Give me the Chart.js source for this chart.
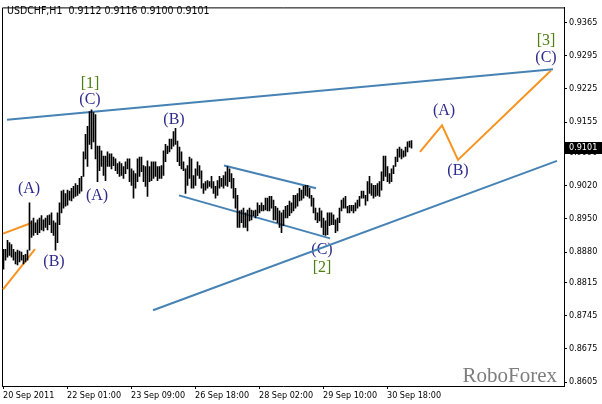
<!DOCTYPE html>
<html>
<head>
<meta charset="UTF-8">
<title>USDCHF H1</title>
<script src="https://cdn.jsdelivr.net/npm/chart.js"></script>
<style>
  html, body { margin: 0; padding: 0; background: #fff; }
  canvas { display: block; }
</style>
</head>
<body>
<canvas id="chart" width="602" height="404"></canvas>
<script>
// hourly bars, high / low only (bars are too dense for open/close ticks)
const symbol = 'USDCHF,H1';
const lastBar = [0.9112, 0.9116, 0.9100, 0.9101]; // open high low close

const highs = [
  .8886, .8886, .8905, .8900, .8896, .8886, .8880, .8884, .8882, .8880, .8873, .8875, .8884, .8984,
  .8946, .8952, .8942, .8948, .8952, .8957, .8948, .8952, .8957, .8959, .8963, .8946, .8942, .8963,
  .8984, .9009, .9011, .9004, .9011, .9009, .9015, .9019, .9025, .9021, .9036, .9040,
  .9092, .9129, .9146, .9177, .9181, .9175, .9171, .9104, .9104, .9094, .9083, .9083, .9092, .9088,
  .9088, .9081, .9077, .9067, .9071, .9067, .9061, .9071, .9077, .9077, .9056, .9052, .9046, .9077,
  .9081, .9081, .9063, .9061, .9073, .9061, .9071, .9071, .9071, .9061, .9061, .9063, .9094, .9108,
  .9104, .9119, .9119, .9135, .9142, .9115, .9102, .9092, .9071, .9056, .9063, .9081, .9077, .9042,
  .9056, .9071, .9063, .9052, .9025, .9029, .9031, .9029, .9040, .9029, .9019, .9031, .9040, .9036,
  .9042, .9050, .9061, .9056, .9046, .9036, .9015, .9000, .8967, .8969, .8973, .8963, .8969, .8973,
  .8969, .8967, .8969, .8984, .8979, .8984, .8979, .8994, .8994, .8998, .8998, .8990, .8977, .8973,
  .8967, .8963, .8969, .8977, .8979, .8988, .8984, .9000, .9000, .9004, .9015, .9011, .9019, .9021,
  .9021, .9015, .9000, .8994, .8973, .8963, .8973, .8967, .8952, .8946, .8963, .8963, .8963, .8959,
  .8948, .8952, .8973, .8990, .8994, .8998, .8977, .8979, .8979, .8979, .8984, .8990, .8998, .9009,
  .9009, .9000, .9029, .9040, .9025, .9021, .9021, .9025, .9029, .9050, .9083, .9083, .9061, .9046,
  .9056, .9063, .9081, .9098, .9102, .9098, .9094, .9102, .9113, .9115, .9116
];
const lows = [
  .8844, .8863, .8869, .8873, .8869, .8863, .8855, .8853, .8859, .8863, .8855, .8859, .8863, .8884,
  .8911, .8915, .8921, .8917, .8921, .8927, .8925, .8932, .8927, .8938, .8921, .8915, .8884, .8900,
  .8938, .8963, .8973, .8977, .8979, .8990, .8988, .8994, .8998, .9000, .9004, .9009,
  .9040, .9077, .9061, .9108, .9098, .9113, .9077, .9029, .9052, .9061, .9042, .9031, .9061, .9061,
  .9056, .9063, .9052, .9046, .9040, .9042, .9036, .9046, .9056, .9029, .9021, .8994, .9015, .9029,
  .9040, .9050, .9029, .9019, .8998, .9029, .9031, .9036, .9040, .9031, .9036, .9036, .9042, .9071,
  .9088, .9092, .9098, .9104, .9108, .9071, .9063, .9056, .9052, .9004, .9021, .9036, .9015, .9015,
  .9021, .9042, .9036, .9015, .9004, .9011, .9015, .9019, .9015, .9004, .8994, .9000, .9015, .9019,
  .9015, .9021, .9019, .9029, .9015, .8994, .8973, .8932, .8932, .8942, .8932, .8932, .8925, .8946,
  .8948, .8957, .8952, .8957, .8963, .8967, .8967, .8969, .8967, .8967, .8973, .8948, .8948, .8942,
  .8932, .8921, .8936, .8952, .8952, .8957, .8963, .8967, .8973, .8977, .8988, .8990, .8994, .9000,
  .8998, .8994, .8977, .8963, .8948, .8942, .8946, .8932, .8917, .8915, .8917, .8936, .8938, .8938,
  .8921, .8925, .8942, .8967, .8973, .8973, .8963, .8963, .8967, .8963, .8967, .8973, .8977, .8994,
  .8994, .8979, .8988, .9004, .9000, .8994, .8998, .9000, .8998, .9011, .9031, .9040, .9029, .9025,
  .9029, .9046, .9061, .9071, .9081, .9077, .9081, .9083, .9092, .9102, .9100
];

const timeLabels = ['20 Sep 2011', '22 Sep 01:00', '23 Sep 09:00', '26 Sep 18:00',
                    '28 Sep 02:00', '29 Sep 10:00', '30 Sep 18:00'];
const timeLabelBars = [0, 32, 64, 96, 128, 160, 192];
const priceTicks = [0.8605, 0.8675, 0.8745, 0.8815, 0.8880, 0.8950, 0.9020,
                    0.9090, 0.9155, 0.9225, 0.9295, 0.9365];

// trend lines and forecast path, [bar, price]
const upperTrend = [[1.75, 0.9160], [274.75, 0.9267]];
const lowerTrend = [[74.75, 0.8757], [276.75, 0.9073]];
const channelTop = [[110.25, 0.9063], [156.25, 0.9015]];
const channelBottom = [[87.75, 0.9000], [163.25, 0.8909]];
const leftFanTop = [[-0.25, 0.8919], [14.25, 0.8942]];
const leftFanBottom = [[-0.25, 0.8801], [15.75, 0.8886]];
const forecast = [[208.25, 0.9092], [219.25, 0.9148], [227.25, 0.9075], [273.75, 0.9264]];

// wave labels: text, bar, price, degree (0 = minor, 1 = primary)
const waveLabels = [
  ['[1]', 43.25, 0.9237, 1], ['(C)', 43.25, 0.9202, 0],
  ['(A)', 12.75, 0.9013, 0], ['(B)', 25.25, 0.8859, 0],
  ['(A)', 46.75, 0.9000, 0], ['(B)', 85.25, 0.9160, 0],
  ['(C)', 159.25, 0.8884, 0], ['[2]', 159.25, 0.8846, 1],
  ['(A)', 220.25, 0.9179, 0], ['(B)', 227.25, 0.9052, 0],
  ['[3]', 271.25, 0.9327, 1], ['(C)', 271.25, 0.9291, 0]
];

const axisFont = '"DejaVu Sans Condensed", "DejaVu Sans", sans-serif';
const toXY = pts => pts.map(p => ({ x: p[0], y: p[1] }));
const lineSet = (pts, color) => ({
  type: 'line', data: toXY(pts), borderColor: color, borderWidth: 2,
  pointRadius: 0, tension: 0, fill: false
});
const BLUE = '#4682B4', ORANGE = '#F7931E';

const overlay = {
  id: 'overlay',
  beforeDatasetsDraw(chart) {
    const { ctx, chartArea: a, scales: { x, y } } = chart;
    ctx.save();
    // frame
    ctx.strokeStyle = '#000';
    ctx.lineWidth = 1;
    ctx.beginPath();
    ctx.moveTo(a.left + 0.5, a.bottom);
    ctx.lineTo(a.left + 0.5, a.top + 0.5);
    ctx.lineTo(a.right, a.top + 0.5);
    ctx.stroke();
    // header
    ctx.fillStyle = '#000';
    ctx.font = '10.5px ' + axisFont;
    ctx.textBaseline = 'alphabetic';
    ctx.textAlign = 'left';
    ctx.fillText(symbol + '  ' + lastBar.map(v => v.toFixed(4)).join(' '), 7, 14);
    // watermark
    ctx.fillStyle = '#7d7d7d';
    ctx.font = '21px "Liberation Serif", serif';
    ctx.textAlign = 'right';
    ctx.fillText('RoboForex', 557, 382);
    // wave labels
    ctx.font = '16px "Liberation Serif", serif';
    ctx.textAlign = 'center';
    ctx.textBaseline = 'middle';
    waveLabels.forEach(([t, b, p, deg]) => {
      ctx.fillStyle = deg ? '#4E7D12' : '#2C2A8C';
      ctx.fillText(t, x.getPixelForValue(b), y.getPixelForValue(p));
    });
    ctx.restore();
  },
  afterDraw(chart) {
    const { ctx, chartArea: a, scales: { y } } = chart;
    const py = Math.round(y.getPixelForValue(lastBar[3]));
    ctx.save();
    ctx.fillStyle = '#000';
    ctx.fillRect(a.right, py - 6, 602 - a.right, 12);
    ctx.fillStyle = '#fff';
    ctx.font = '9px ' + axisFont;
    ctx.textBaseline = 'middle';
    ctx.textAlign = 'left';
    ctx.fillText(lastBar[3].toFixed(4), a.right + 5, py);
    ctx.restore();
  }
};

new Chart(document.getElementById('chart'), {
  type: 'bar',
  data: {
    datasets: [
      {
        type: 'bar',
        data: highs.map((h, i) => ({ x: i, y: [lows[i], h] })),
        backgroundColor: '#000', borderWidth: 0,
        barThickness: 1, grouped: false
      },
      lineSet(upperTrend, BLUE),
      lineSet(lowerTrend, BLUE),
      lineSet(channelTop, BLUE),
      lineSet(channelBottom, BLUE),
      lineSet(leftFanTop, ORANGE),
      lineSet(leftFanBottom, ORANGE),
      lineSet(forecast, ORANGE)
    ]
  },
  options: {
    responsive: false,
    animation: false,
    layout: { padding: { left: 2, top: 1, right: 0, bottom: 0 } },
    plugins: { legend: { display: false }, tooltip: { enabled: false } },
    scales: {
      x: {
        type: 'linear', min: -0.75, max: 280.25, offset: false,
        grid: { display: true, offset: false, drawOnChartArea: false, drawTicks: true, tickLength: 3, color: '#000' },
        border: { display: true, color: '#000' },
        afterBuildTicks: s => { s.ticks = timeLabelBars.map(b => ({ value: b - 0.25 })); },
        afterFit: s => { s.height = 18; },
        ticks: {
          autoSkip: false, maxRotation: 0, align: 'start', padding: 1, color: '#000',
          font: { family: axisFont, size: 9 },
          callback: (v, i) => timeLabels[i]
        }
      },
      y: {
        position: 'right', min: 0.85967, max: 0.93976,
        grid: { display: true, drawOnChartArea: false, drawTicks: true, tickLength: 3, color: '#000' },
        border: { display: true, color: '#000' },
        afterBuildTicks: s => { s.ticks = priceTicks.map(v => ({ value: v })); },
        afterFit: s => { s.width = 38; },
        ticks: {
          padding: 2, color: '#000',
          font: { family: axisFont, size: 9 },
          callback: v => v.toFixed(4)
        }
      }
    }
  },
  plugins: [overlay]
});
</script>
</body>
</html>
